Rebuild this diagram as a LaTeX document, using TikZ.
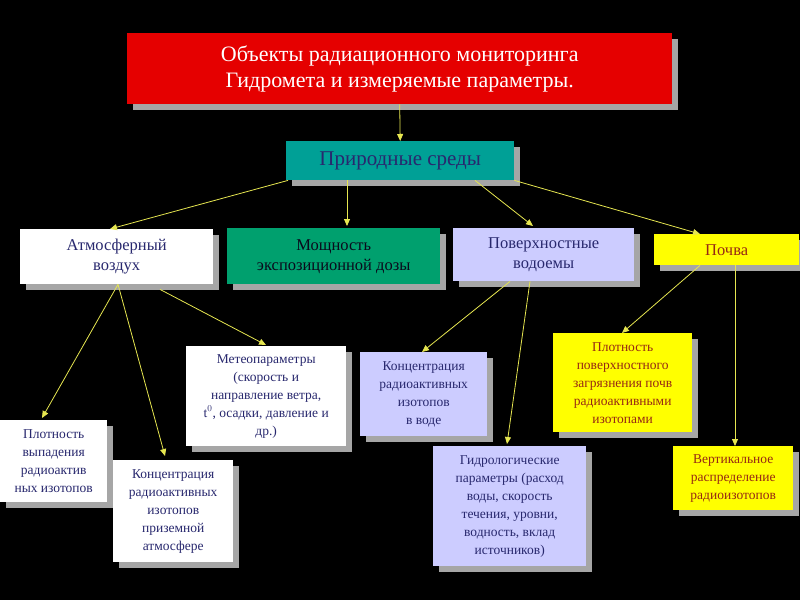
\documentclass[tikz,border=0pt]{standalone}
\usepackage{fontspec}
\setmainfont{Liberation Serif}
\usetikzlibrary{shadows,calc,arrows.meta}
\definecolor{navy}{RGB}{40,40,110}
\definecolor{tealbox}{RGB}{0,160,150}
\definecolor{greenbox}{RGB}{0,160,110}
\definecolor{lav}{RGB}{204,204,255}
\definecolor{ybox}{RGB}{255,255,0}
\definecolor{brown}{RGB}{150,40,20}
\definecolor{arr}{RGB}{230,230,80}
\tikzset{
 bx/.style={anchor=north west, inner sep=2pt, align=center, text=navy,
   drop shadow={shadow xshift=6pt, shadow yshift=-6pt, fill=gray!70, opacity=1}},
 ar/.style={draw=arr, line width=0.8pt, -{Triangle[length=7pt,width=6pt]}},
}
\begin{document}
\begin{tikzpicture}[x=1pt,y=-1pt]
\fill[black] (0,0) rectangle (800,600);
\useasboundingbox (0,0) rectangle (800,600);
\node[bx, fill=red!90!black, text=white, minimum width=545pt, minimum height=71pt, font=\fontsize{22}{26}\selectfont] (t) at (127,33) {Объекты радиационного мониторинга\\Гидромета и измеряемые параметры.};
\node[bx, fill=tealbox, minimum width=228pt, minimum height=39pt, font=\fontsize{21}{25}\selectfont] (p) at (286,141) {Природные среды};
\node[bx, fill=white, minimum width=193pt, minimum height=55pt, font=\fontsize{16.5}{20}\selectfont] (a) at (20,229) {Атмосферный\\воздух};
\node[bx, fill=greenbox, text=black!75!navy, minimum width=213pt, minimum height=56pt, font=\fontsize{16.5}{20}\selectfont] (m) at (227,228) {Мощность\\экспозиционной дозы};
\node[bx, fill=lav, minimum width=181pt, minimum height=53pt, font=\fontsize{16.5}{20}\selectfont] (v) at (453,228) {Поверхностные\\водоемы};
\node[bx, fill=ybox, text=brown, minimum width=145pt, minimum height=31pt, font=\fontsize{16.5}{20}\selectfont] (s) at (654,234) {Почва};
\node[bx, fill=white, minimum width=160pt, minimum height=100pt, font=\fontsize{13.5}{18}\selectfont] (me) at (186,346) {Метеопараметры\\(скорость и\\направление ветра,\\t$^0$, осадки, давление и\\др.)};
\node[bx, fill=lav, minimum width=127pt, minimum height=84pt, font=\fontsize{13.5}{18}\selectfont] (kv) at (360,352) {Концентрация\\радиоактивных\\изотопов\\в воде};
\node[bx, fill=ybox, text=brown, minimum width=139pt, minimum height=99pt, font=\fontsize{13.5}{18}\selectfont] (ps) at (553,333) {Плотность\\поверхностного\\загрязнения почв\\радиоактивными\\изотопами};
\node[bx, fill=white, minimum width=107pt, minimum height=82pt, font=\fontsize{13.5}{18}\selectfont] (pv) at (0,420) {Плотность\\выпадения\\радиоактив\\ных изотопов};
\node[bx, fill=white, minimum width=120pt, minimum height=102pt, font=\fontsize{13.5}{18}\selectfont] (ka) at (113,460) {Концентрация\\радиоактивных\\изотопов\\приземной\\атмосфере};
\node[bx, fill=lav, minimum width=153pt, minimum height=120pt, font=\fontsize{13.5}{18}\selectfont] (g) at (433,446) {Гидрологические\\параметры (расход\\воды, скорость\\течения, уровни,\\водность, вклад\\источников)};
\node[bx, fill=ybox, text=brown, minimum width=120pt, minimum height=64pt, font=\fontsize{13.5}{18}\selectfont] (vr) at (673,446) {Вертикальное\\распределение\\радиоизотопов};
\draw[ar] (t.south) -- (p.north);
\draw[ar] ($(p.south west)+(2,0)$) -- ($(a.north west)+(90,0)$);
\draw[ar] ($(p.south west)+(61,0)$) -- ($(m.north west)+(120,-2)$);
\draw[ar] ($(p.south west)+(189,0)$) -- ($(v.north west)+(80,-2)$);
\draw[ar] (p.south east) -- ($(s.north west)+(46,0)$);
\draw[ar] ($(a.south west)+(98,0)$) -- ($(pv.north west)+(42,-2)$);
\draw[ar] ($(a.south west)+(98,0)$) -- ($(ka.north west)+(52,-4)$);
\draw[ar] ($(a.south west)+(140,5)$) -- ($(me.north west)+(80,-1)$);
\draw[ar] ($(v.south west)+(57,0)$) -- ($(kv.north west)+(62,0)$);
\draw[ar] ($(v.south west)+(77,0)$) -- ($(g.north west)+(74,-2)$);
\draw[ar] ($(s.south west)+(46,0)$) -- ($(ps.north west)+(69,0)$);
\draw[ar] ($(s.south west)+(81,0)$) -- ($(vr.north west)+(62,0)$);
\end{tikzpicture}
\end{document}
